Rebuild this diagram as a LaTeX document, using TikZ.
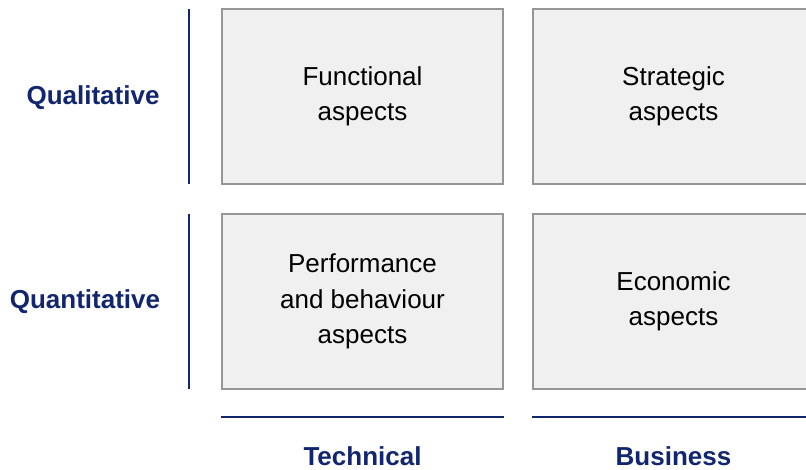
\documentclass[tikz,border=0pt]{standalone}
\usepackage{fontspec}
\setmainfont{Liberation Sans}
\usetikzlibrary{positioning}

\definecolor{navy}{RGB}{18,38,112}
\definecolor{boxfill}{RGB}{240,240,240}
\definecolor{boxline}{RGB}{150,150,150}

\tikzset{
  aspect/.style={draw=boxline, line width=1.4pt, fill=boxfill,
    minimum width=281pt, minimum height=175pt, inner sep=0pt,
    align=center, font=\fontsize{26}{35.5}\selectfont},
  axis/.style={text=navy, font=\fontsize{26}{30}\selectfont\bfseries},
  bar/.style={draw=navy, line width=2pt}
}

\begin{document}
\begin{tikzpicture}[x=1pt, y=-1pt, node distance=205pt and 311pt, on grid]
  \useasboundingbox (0,0) rectangle (806,470);
  \clip (0,0) rectangle (806,470);

  % the four quadrants
  \node[aspect] (func) at (362.5,96.5) {Functional\\aspects};
  \node[aspect] (strat) [right=of func] {Strategic\\aspects};
  \node[aspect] (perf) [below=of func] {Performance\\and behaviour\\aspects};
  \node[aspect] (econ) [below=of strat] {Economic\\aspects};

  % row labels
  \node[axis] (qual) at (93,98) {Qualitative};
  \node[axis] (quant) at (85,302) {Quantitative};

  % column labels
  \node[axis] (tech) at (362.5,456) {Technical};
  \node[axis] (bus) at (673.5,456) {Business};

  % bars next to the labels
  \draw[bar] ([xshift=-32pt,yshift=-1pt]func.north west) -- ([xshift=-32pt,yshift=1pt]func.south west);
  \draw[bar] ([xshift=-32pt,yshift=-1pt]perf.north west) -- ([xshift=-32pt,yshift=1pt]perf.south west);
  \draw[bar] ([yshift=-27pt]perf.south west) -- ([yshift=-27pt]perf.south east);
  \draw[bar] ([yshift=-27pt]econ.south west) -- ([yshift=-27pt]econ.south east);
\end{tikzpicture}
\end{document}
